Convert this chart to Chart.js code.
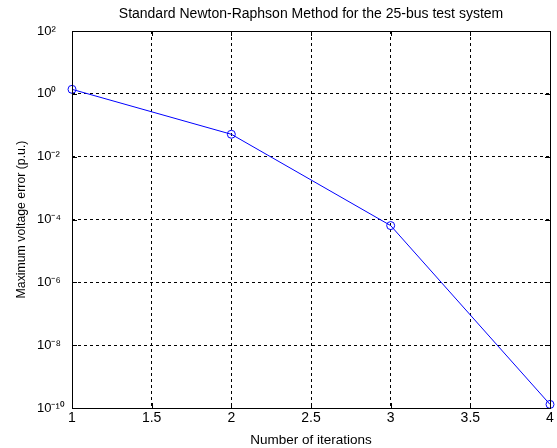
<!DOCTYPE html>
<html>
<head>
<meta charset="utf-8">
<script src="https://cdn.jsdelivr.net/npm/chart.js@4"></script>
<style>
html,body{margin:0;padding:0;background:#fff;}
#wrap{width:557px;height:448px;}
</style>
</head>
<body>
<div id="wrap"><canvas id="c" width="557" height="448"></canvas></div>
<script>
const iterations = [1, 2, 3, 4];
const maxVoltageError = [1.39, 0.0516, 6.4e-5, 1.3e-10];
const xTicks = [1, 1.5, 2, 2.5, 3, 3.5, 4];
const yTickExponents = [2, 0, -2, -4, -6, -8, -10];
const titleText = 'Standard Newton-Raphson Method for the 25-bus test system';
const xLabel = 'Number of iterations';
const yLabel = 'Maximum voltage error (p.u.)';

const sup = {'0':'⁰','1':'¹','2':'²','3':'³','4':'⁴','5':'⁵','6':'⁶','7':'⁷','8':'⁸','9':'⁹','-':'⁻'};
function toSup(n){ return String(n).split('').map(c => sup[c]).join(''); }

const FAM = '"Liberation Sans", Arial, sans-serif';

const boxPlugin = {
  id: 'boxPlugin',
  afterDatasetsDraw(chart) {
    const {ctx, chartArea: a, scales} = chart;
    ctx.save();
    ctx.strokeStyle = '#000';
    ctx.lineWidth = 1;
    ctx.setLineDash([]);
    ctx.beginPath();
    scales.x.ticks.forEach(t => {
      const px = Math.round(scales.x.getPixelForValue(t.value)) + 0.5;
      ctx.moveTo(px, a.bottom); ctx.lineTo(px, a.bottom - 5);
      ctx.moveTo(px, a.top); ctx.lineTo(px, a.top + 5);
    });
    scales.y.ticks.forEach(t => {
      const py = Math.round(scales.y.getPixelForValue(t.value)) + 0.5;
      ctx.moveTo(a.left, py); ctx.lineTo(a.left + 5, py);
      ctx.moveTo(a.right, py); ctx.lineTo(a.right - 5, py);
    });
    ctx.stroke();
    ctx.strokeRect(Math.round(a.left) + 0.5, Math.round(a.top) + 0.5,
                   Math.round(a.right - a.left), Math.round(a.bottom - a.top));
    ctx.restore();
  }
};

new Chart(document.getElementById('c'), {
  type: 'line',
  data: {
    datasets: [{
      data: iterations.map((x, i) => ({x, y: maxVoltageError[i]})),
      borderColor: 'rgb(0,0,255)',
      borderWidth: 1,
      pointStyle: 'circle',
      pointRadius: 4,
      pointBorderWidth: 1,
      pointBorderColor: 'rgb(0,0,255)',
      pointBackgroundColor: 'rgba(0,0,0,0)',
      tension: 0,
      fill: false,
      clip: false,
      yAxisID: 'y'
    }]
  },
  options: {
    responsive: false,
    animation: false,
    layout: {padding: {left: 0, right: 7, top: 0, bottom: 0}},
    plugins: {
      legend: {display: false},
      tooltip: {enabled: false},
      title: {
        display: true,
        fullSize: false,
        text: titleText,
        color: '#000',
        font: {family: FAM, size: 14, weight: 'normal', lineHeight: 1.2},
        padding: {top: 5.6, bottom: 8.6}
      }
    },
    scales: {
      x: {
        type: 'linear',
        min: 1, max: 4,
        afterBuildTicks: s => { s.ticks = xTicks.map(v => ({value: v})); },
        afterFit: s => { s.height = 40; },
        ticks: {
          color: '#000', font: {family: FAM, size: 14}, padding: 2, maxRotation: 0,
          callback: v => String(v)
        },
        grid: {color: '#000', lineWidth: 1, drawTicks: false},
        border: {display: false, dash: [3, 3]},
        title: {display: true, text: xLabel, color: '#000',
                font: {family: FAM, size: 13.5, lineHeight: 1.2}, padding: {top: 6.9, bottom: 0}}
      },
      y: {
        type: 'logarithmic',
        position: 'left',
        weight: 0,
        min: 1e-10, max: 1e2,
        afterBuildTicks: s => { s.ticks = yTickExponents.map(e => ({value: Math.pow(10, e)})); },
        afterFit: s => { s.width = 35; },
        ticks: {
          color: '#000', font: {family: FAM, size: 13}, padding: 4, crossAlign: 'far',
          callback: v => '10' + toSup(Math.round(Math.log10(v)))
        },
        grid: {color: '#000', lineWidth: 1, drawTicks: false},
        border: {display: false, dash: [3, 3]},
        title: {display: false}
      },
      yTitle: {
        type: 'linear',
        position: 'left',
        weight: 1,
        afterFit: s => { s.width = 37; },
        ticks: {display: false},
        grid: {display: false},
        border: {display: false},
        title: {display: true, text: yLabel, color: '#000',
                font: {family: FAM, size: 12.3, lineHeight: 1.2}, padding: {top: 14.3, bottom: 0}}
      }
    }
  },
  plugins: [boxPlugin]
});
</script>
</body>
</html>
